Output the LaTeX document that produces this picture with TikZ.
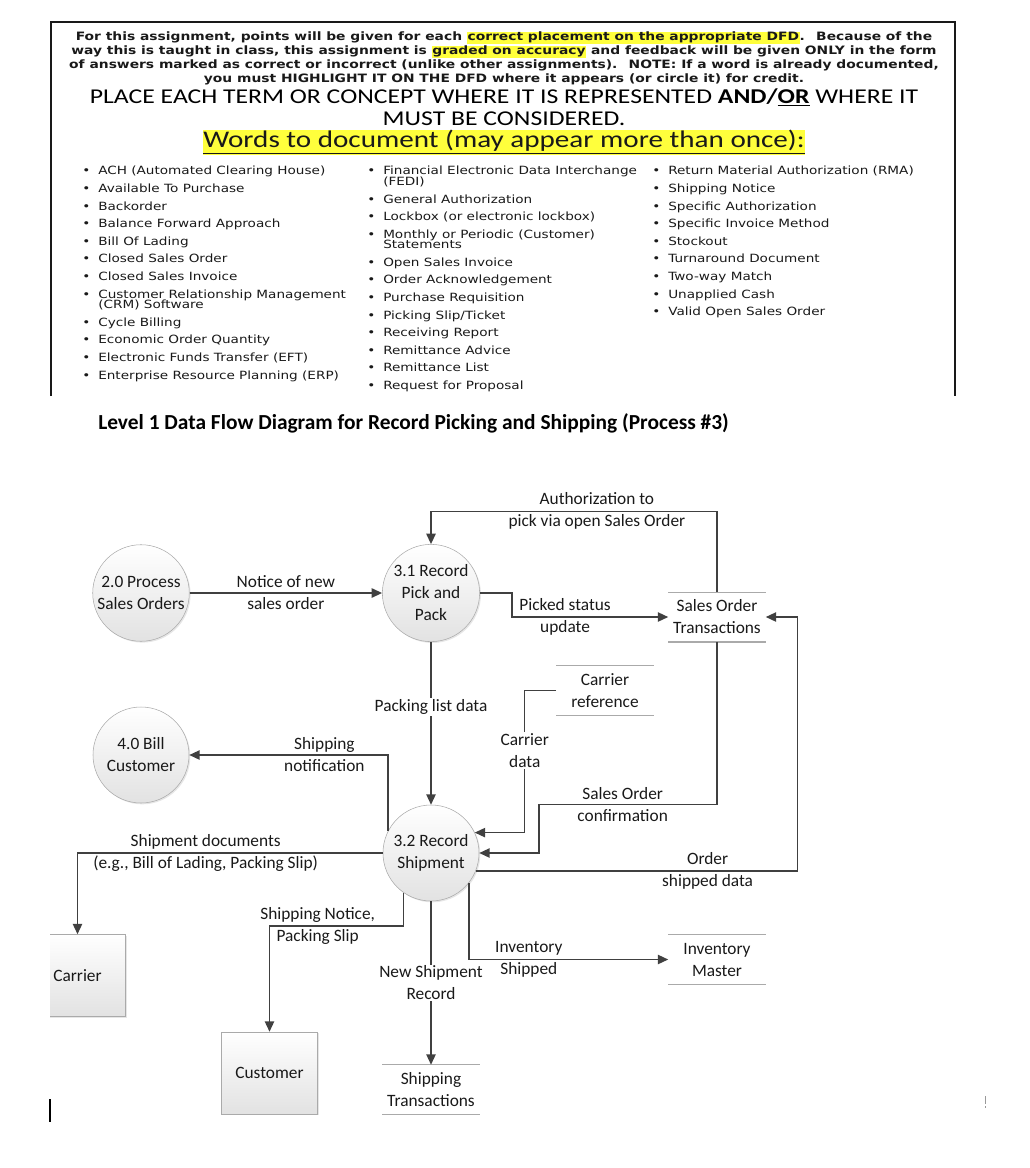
\documentclass[tikz,border=0pt]{standalone}
\usepackage{fontspec}
\setmainfont{Carlito}
\newfontfamily\notefont[FakeStretch=1.2]{DejaVu Sans}
\newfontfamily\headfont[FakeStretch=1.22]{Carlito}
\usepackage{xcolor}
\usepackage{tikz}
\usetikzlibrary{arrows.meta, positioning, shadows}
\definecolor{flowgray}{RGB}{64, 64, 64}
\definecolor{edgegray}{RGB}{170, 170, 170}
\definecolor{shadegray}{RGB}{226, 226, 226}
\definecolor{hlyellow}{RGB}{255, 255, 60}
\definecolor{inkdark}{RGB}{25, 25, 25}
\newcommand{\diagfont}{\fontsize{13}{16.5}\selectfont}
\newcommand{\hlt}[1]{{\setlength{\fboxsep}{0.5pt}\colorbox{hlyellow}{\vphantom{(}#1}}}
\newcommand{\lbul}{\makebox[12pt][l]{\textbullet}}
\newcommand{\lwrap}{\hspace*{12pt}}

\begin{document}
\begin{tikzpicture}[
    x=0.75pt, y=-0.75pt,
    process/.style={circle, draw=edgegray, top color=white, bottom color=shadegray, drop shadow={opacity=0.2, shadow xshift=1pt, shadow yshift=-1pt}, minimum size=72pt, inner sep=1pt, align=center, text=inkdark, font=\diagfont},
    entity/.style={rectangle, draw=edgegray, top color=white, bottom color=shadegray, drop shadow={opacity=0.2, shadow xshift=1pt, shadow yshift=-1pt}, minimum width=72pt, minimum height=61.5pt, align=center, text=inkdark, font=\diagfont},
    storeline/.style={draw=edgegray, line width=1.1pt},
    datastore/.style={minimum width=72.75pt, minimum height=36.75pt, inner sep=0pt, align=center, text=inkdark, font=\diagfont, append after command={(\tikzlastnode.north west) edge[storeline] (\tikzlastnode.north east) (\tikzlastnode.south west) edge[storeline] (\tikzlastnode.south east)}},
    flow/.style={draw=flowgray, line width=1.1pt, -{Triangle[length=7.8pt, width=7pt]}},
    flowlabel/.style={align=center, inner sep=1pt, text=inkdark, font=\diagfont},
    listcol/.style={anchor=north west, inner sep=0pt, align=left, text=inkdark, font={\notefont\fontsize{8.5}{7.9}\selectfont\lineskiplimit=-20pt}}
]
    \useasboundingbox (0,0) rectangle (1030,1168);

    % Assignment sheet
    \draw[line width=1.1pt, draw=inkdark] (51,396) -- (51,22) -- (955,22) -- (955,396);
    \node[align=center, inner sep=0pt, text=inkdark, font={\notefont\fontsize{8.65}{10.5}\selectfont\bfseries\lineskiplimit=-20pt}] (brief) at (504,58.5) {For this assignment, points will be given for each \hlt{correct placement on the appropriate DFD}.~ Because of the\\
        way this is taught in class, this assignment is \hlt{graded on accuracy} and feedback will be given ONLY in the form\\
        of answers marked as correct or incorrect (unlike other assignments).~ NOTE: If a word is already documented,\\
        you must HIGHLIGHT IT ON THE DFD where it appears (or circle it) for credit.};
    \node[align=center, inner sep=0pt, text=black, font={\headfont\fontsize{15.8}{16.4}\selectfont\lineskiplimit=-20pt}] (place) at (504,107) {PLACE EACH TERM OR CONCEPT WHERE IT IS REPRESENTED \textbf{AND/\underline{OR}} WHERE IT\\MUST BE CONSIDERED.};
    \node[inner sep=0pt, text=inkdark, font={\headfont\fontsize{17.9}{20}\selectfont}] (words) at (504,142.5) {\hlt{\underline{Words to document (may appear more than once):}}};

    \node[listcol] (terms1) at (82,166) {%
        \lbul ACH (Automated Clearing House)\\[5.3pt]
        \lbul Available To Purchase\\[5.3pt]
        \lbul Backorder\\[5.3pt]
        \lbul Balance Forward Approach\\[5.3pt]
        \lbul Bill Of Lading\\[5.3pt]
        \lbul Closed Sales Order\\[5.3pt]
        \lbul Closed Sales Invoice\\[5.3pt]
        \lbul Customer Relationship Management\\
        \lwrap (CRM) Software\\[5.3pt]
        \lbul Cycle Billing\\[5.3pt]
        \lbul Economic Order Quantity\\[5.3pt]
        \lbul Electronic Funds Transfer (EFT)\\[5.3pt]
        \lbul Enterprise Resource Planning (ERP)};
    \node[listcol] (terms2) at (367,166) {%
        \lbul Financial Electronic Data Interchange\\
        \lwrap (FEDI)\\[5.3pt]
        \lbul General Authorization\\[5.3pt]
        \lbul Lockbox (or electronic lockbox)\\[5.3pt]
        \lbul Monthly or Periodic (Customer)\\
        \lwrap Statements\\[5.3pt]
        \lbul Open Sales Invoice\\[5.3pt]
        \lbul Order Acknowledgement\\[5.3pt]
        \lbul Purchase Requisition\\[5.3pt]
        \lbul Picking Slip/Ticket\\[5.3pt]
        \lbul Receiving Report\\[5.3pt]
        \lbul Remittance Advice\\[5.3pt]
        \lbul Remittance List\\[5.3pt]
        \lbul Request for Proposal};
    \node[listcol] (terms3) at (652,166) {%
        \lbul Return Material Authorization (RMA)\\[5.3pt]
        \lbul Shipping Notice\\[5.3pt]
        \lbul Specific Authorization\\[5.3pt]
        \lbul Specific Invoice Method\\[5.3pt]
        \lbul Stockout\\[5.3pt]
        \lbul Turnaround Document\\[5.3pt]
        \lbul Two-way Match\\[5.3pt]
        \lbul Unapplied Cash\\[5.3pt]
        \lbul Valid Open Sales Order};

    \node[anchor=west, inner sep=0pt, text=black, font={\bfseries\fontsize{16.05}{18}\selectfont}] (title) at (98,423) {Level 1 Data Flow Diagram for Record Picking and Shipping (Process \#3)};

    % Processes
    \node[process] (p20) at (141,593) {2.0 Process\\Sales Orders};
    \node[process] (p31) at (431,593) {3.1 Record\\Pick and\\Pack};
    \node[process] (p40) at (141,755) {4.0 Bill\\Customer};
    \node[process] (p32) at (431,853) {3.2 Record\\Shipment};

    % Data stores
    \node[datastore] (sot) at (717,617) {Sales Order\\Transactions};
    \node[datastore] (carref) at (605,690.5) {Carrier\\reference};
    \node[datastore] (invm) at (717,959.5) {Inventory\\Master};
    \node[datastore] (shipt) at (431,1089.5) {Shipping\\Transactions};

    % External entities
    \begin{scope}
        \clip (50,900) rectangle (200,1040);
        \node[entity] (carrier) at (77.5,975.5) {Carrier};
    \end{scope}
    \node[entity] (cust) at (269.5,1073) {Customer};

    % Flows
    \draw[flow] (p20) -- node[flowlabel]{Notice of new\\sales order} (p31);
    \draw[flow] (sot.north) -- ++(0,-81) -| node[flowlabel, pos=0.21]{Authorization to\\pick via open Sales Order} (p31.north);
    \draw[flow] (p31.east) -- ++(32,0) |- node[flowlabel, pos=0.67]{Picked status\\update} (sot.west);
    \draw[flow] (p31) -- node[flowlabel, fill=white, pos=0.4]{Packing list data} (p32);
    \draw[flow] (carref.west) -- ++(-31.5,0) |- node[flowlabel, fill=white, pos=0.21]{Carrier\\data} (p32.25);
    \draw[flow] (p32.153) |- node[flowlabel, pos=0.66]{Shipping\\notification} (p40.east);
    \draw[flow] (sot.south) -- ++(0,162.5) -- node[flowlabel, pos=0.53]{Sales Order\\confirmation} ++(-178,0) |- (p32.east);
    \draw[flow] (p32.-22) -- node[flowlabel, pos=0.72]{Order\\shipped data} ++(322,0) |- (sot.east);
    \draw[flow] (p32.west) -| node[flowlabel, pos=0.29]{Shipment documents\\(e.g., Bill of Lading, Packing Slip)} (carrier.north);
    \draw[flow] (p32.-125) -- ++(0,33.5) -| node[flowlabel, pos=0.32]{Shipping Notice,\\Packing Slip} (cust.north);
    \draw[flow] (p32) -- node[flowlabel, fill=white]{New Shipment\\Record} (shipt);
    \draw[flow] (p32.-38.6) |- node[flowlabel, pos=0.65]{Inventory\\Shipped} (invm.west);

    % Marks left on the page
    \draw[line width=1.2pt] (50,1099) -- (50,1122);
    \draw[black!40, line width=0.6pt] (985,1096) -- (985,1104) (985,1106) -- (985,1108);
\end{tikzpicture}
\end{document}
